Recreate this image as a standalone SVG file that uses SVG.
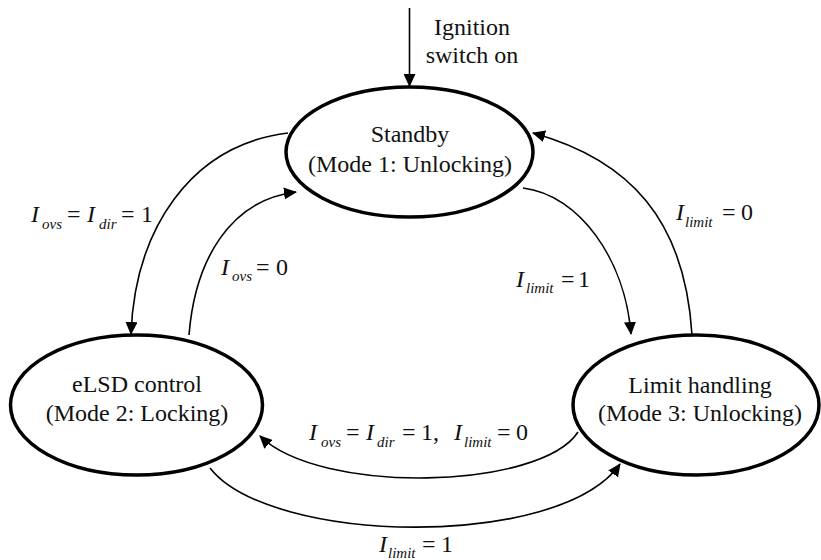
<svg xmlns="http://www.w3.org/2000/svg" width="821" height="560" viewBox="0 0 821 560">
<style>
.node ellipse{fill:#fff;stroke:#000;stroke-width:3.5}
.node text{font-family:"Liberation Serif","Times New Roman",serif;font-size:24px;text-anchor:middle;fill:#111}
.edge{fill:none;stroke:#000;stroke-width:1.6}
.lbl{font-family:"Liberation Serif","Times New Roman",serif;font-size:24px;fill:#111}
.it{font-style:italic}
.sub{font-style:italic;font-size:15px}
</style>
<defs>
<marker id="arr" markerUnits="userSpaceOnUse" markerWidth="13" markerHeight="12" refX="12" refY="6" orient="auto">
<path d="M0,0 L13,6 L0,12 z" fill="#000"/>
</marker>
</defs>
<g id="connectors">
<line class="edge" x1="409.5" y1="8" x2="409.5" y2="86" marker-end="url(#arr)"/>
<path class="edge" d="M288,133 C190,145 135,230 131,334" marker-end="url(#arr)"/>
<path class="edge" d="M189,335 C195,260 230,200 296,192" marker-end="url(#arr)"/>
<path class="edge" d="M523,188 C580,195 625,260 631,334" marker-end="url(#arr)"/>
<path class="edge" d="M692,335 C685,220 630,160 533,133" marker-end="url(#arr)"/>
<path class="edge" d="M578,432 C540,490 320,495 260,436" marker-end="url(#arr)"/>
<path class="edge" d="M210,468 C270,545 560,550 620,464" marker-end="url(#arr)"/>
</g>
<g id="standby" class="node">
<ellipse cx="409.5" cy="152" rx="123.5" ry="65"/>
<text x="410" y="142">Standby</text>
<text x="410" y="172">(Mode 1: Unlocking)</text>
</g>
<g id="elsd" class="node">
<ellipse cx="136.5" cy="405" rx="126" ry="70"/>
<text x="137" y="392">eLSD control</text>
<text x="137" y="421">(Mode 2: Locking)</text>
</g>
<g id="limit" class="node">
<ellipse cx="696" cy="405" rx="123" ry="70"/>
<text x="700" y="393">Limit handling</text>
<text x="700" y="421">(Mode 3: Unlocking)</text>
</g>
<g id="labels">
<text class="lbl" x="472" y="35" text-anchor="middle">Ignition</text>
<text class="lbl" x="472" y="63" text-anchor="middle">switch on</text>
<text class="lbl"><tspan class="it" x="31" y="222">I</tspan><tspan class="sub" x="42" y="229">ovs</tspan><tspan x="67" y="222">=</tspan><tspan class="it" x="87" y="222">I</tspan><tspan class="sub" x="99" y="229">dir</tspan><tspan x="121" y="222">=</tspan><tspan x="141" y="222">1</tspan></text>
<text class="lbl"><tspan class="it" x="221" y="275">I</tspan><tspan class="sub" x="232" y="281">ovs</tspan><tspan x="256" y="275">=</tspan><tspan x="276" y="275">0</tspan></text>
<text class="lbl"><tspan class="it" x="516" y="287">I</tspan><tspan class="sub" x="526" y="293">limit</tspan><tspan x="561" y="287">=</tspan><tspan x="578" y="287">1</tspan></text>
<text class="lbl"><tspan class="it" x="676" y="220">I</tspan><tspan class="sub" x="685" y="227">limit</tspan><tspan x="722" y="220">=</tspan><tspan x="741" y="220">0</tspan></text>
<text class="lbl"><tspan class="it" x="309" y="440">I</tspan><tspan class="sub" x="321" y="447">ovs</tspan><tspan x="346" y="440">=</tspan><tspan class="it" x="366" y="440">I</tspan><tspan class="sub" x="377" y="447">dir</tspan><tspan x="402" y="440">=</tspan><tspan x="421" y="440">1,</tspan><tspan class="it" x="454" y="440">I</tspan><tspan class="sub" x="464" y="447">limit</tspan><tspan x="497" y="440">=</tspan><tspan x="516" y="440">0</tspan></text>
<text class="lbl"><tspan class="it" x="379" y="552">I</tspan><tspan class="sub" x="388" y="558">limit</tspan><tspan x="422" y="552">=</tspan><tspan x="441" y="552">1</tspan></text>
</g>
</svg>
